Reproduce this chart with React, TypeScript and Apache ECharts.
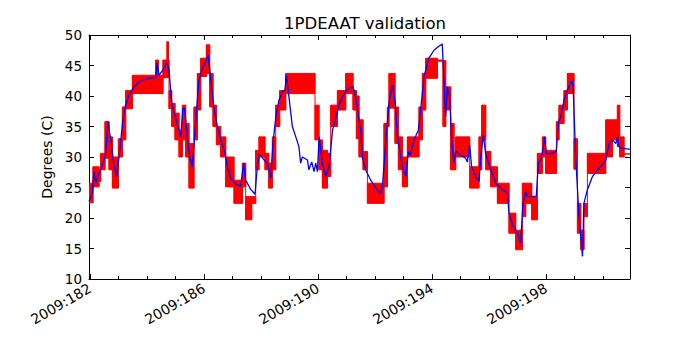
import React, { useEffect, useRef } from "react";
import * as echarts from "echarts";

// ---- Data (day-of-year 2009, temperature in deg C) ----
const xMin = 181.965;
const xMax = 200.947;
const majorDays = [182, 186, 190, 194, 198];
const minorDays = [183, 184, 185, 187, 188, 189, 191, 192, 193, 195, 196, 197, 199, 200];
const yTicks = [10, 15, 20, 25, 30, 35, 40, 45, 50];

// Red telemetry (quantized, noisy): piecewise blocks [edge_i, edge_i+1] with low/high envelope
const redEdges = [
  181.965, 182.105, 182.316, 182.375, 182.526, 182.667, 182.786, 182.996, 183.137, 183.253,
  183.488, 184.305, 184.4, 184.561, 184.702, 184.751, 184.772, 184.867, 184.982, 185.123,
  185.242, 185.358, 185.474, 185.649, 185.768, 185.884, 186.084, 186.2, 186.316, 186.435,
  186.586, 186.761, 187.053, 187.347, 187.463, 187.674, 187.814, 187.93, 188.14, 188.27,
  188.4, 188.516, 188.656, 188.867, 189.895, 190.035, 190.154, 190.33, 190.446, 190.681,
  190.972, 191.228, 191.347, 191.439, 191.579, 191.733, 192.316, 192.435, 192.491, 192.702,
  192.821, 192.961, 193.137, 193.544, 193.663, 193.779, 194.189, 194.386, 194.481, 194.656,
  194.772, 194.832, 195.323, 195.649, 195.744, 195.884, 196.06, 196.295, 196.702, 196.937,
  197.172, 197.288, 197.498, 197.698, 197.874, 197.989, 198.365, 198.456, 198.632, 198.751,
  198.982, 199.102, 199.218, 199.333, 199.453, 200.095, 200.33, 200.505, 200.586, 200.737,
  200.947,
];
const redLow = [
  22.5, 25.1, 26.0, 27.9, 29.8, 27.9, 24.9, 30.0, 32.8, 37.9,
  40.4, 40.4, 40.4, 43.0, 43.0, 43.0, 37.9, 35.0, 32.8, 30.0,
  32.8, 30.0, 24.9, 32.8, 37.7, 43.2, 43.7, 38.2, 35.0, 32.0,
  30.0, 25.1, 22.4, 25.1, 19.7, 22.4, 27.9, 30.0, 27.9, 24.9,
  27.9, 35.0, 37.7, 40.4, 32.8, 27.9, 24.9, 26.8, 35.0, 37.7,
  40.4, 37.7, 33.0, 30.0, 27.9, 22.4, 25.1, 35.0, 38.0, 32.2,
  27.9, 25.1, 30.0, 32.8, 37.7, 42.9, 45.7, 35.0, 37.7, 27.9,
  27.9, 30.0, 24.9, 27.9, 32.8, 27.9, 25.1, 22.4, 17.5, 14.8,
  20.2, 22.4, 19.7, 27.3, 30.0, 27.3, 32.8, 35.5, 37.7, 40.4,
  28.0, 17.5, 14.8, 20.2, 27.3, 30.0, 32.8, 31.7, 30.0, 30.5,
];
const redHigh = [
  25.7, 28.4, 28.0, 30.6, 35.8, 33.3, 30.0, 33.0, 38.2, 40.9,
  43.4, 45.9, 43.4, 45.9, 48.9, 45.9, 40.9, 38.8, 37.2, 34.4,
  38.5, 35.5, 32.2, 38.2, 43.7, 46.2, 48.4, 43.7, 38.5, 35.0,
  33.3, 30.0, 26.2, 29.0, 23.5, 23.5, 31.1, 33.3, 30.6, 29.0,
  33.3, 38.5, 40.9, 43.7, 38.5, 32.8, 31.1, 30.6, 38.5, 40.9,
  43.7, 40.9, 40.0, 36.1, 30.9, 25.7, 35.5, 38.2, 43.7, 38.2,
  33.3, 30.0, 33.3, 38.2, 43.7, 46.2, 45.9, 45.8, 41.5, 35.5,
  30.6, 33.3, 28.4, 33.3, 38.5, 30.9, 28.4, 25.7, 20.8, 18.0,
  25.7, 25.7, 23.5, 30.6, 33.3, 31.1, 35.8, 38.5, 40.9, 43.7,
  33.0, 22.4, 18.0, 22.4, 30.6, 36.1, 36.1, 38.5, 33.3, 30.5,
];

// Blue model prediction
const blueDays = [
  181.965, 182.08, 182.14, 182.2, 182.32, 182.49, 182.55, 182.63, 182.73, 182.84,
  182.93, 183.02, 183.14, 183.23, 183.37, 183.54, 183.78, 184.07, 184.31, 184.35,
  184.42, 184.56, 184.69, 184.77, 184.87, 185.01, 185.12, 185.18, 185.26, 185.32,
  185.42, 185.5, 185.59, 185.71, 185.82, 185.94, 186.06, 186.15, 186.24, 186.35,
  186.47, 186.59, 186.74, 186.82, 186.94, 187.11, 187.29, 187.35, 187.4, 187.46,
  187.64, 187.79, 187.87, 187.95, 188.11, 188.22, 188.28, 188.34, 188.42, 188.52,
  188.63, 188.75, 188.84, 188.89, 188.98, 189.1, 189.22, 189.33, 189.39, 189.45,
  189.63, 189.68, 189.78, 189.86, 189.92, 189.98, 190.04, 190.1, 190.15, 190.27,
  190.39, 190.51, 190.62, 190.74, 190.91, 191.09, 191.23, 191.32, 191.44, 191.5,
  191.56, 191.67, 191.85, 192.03, 192.2, 192.26, 192.38, 192.49, 192.61, 192.7,
  192.79, 192.96, 193.08, 193.17, 193.23, 193.37, 193.52, 193.6, 193.72, 193.89,
  194.07, 194.25, 194.36, 194.42, 194.48, 194.54, 194.62, 194.69, 194.77, 194.83,
  195.01, 195.18, 195.24, 195.32, 195.39, 195.53, 195.65, 195.71, 195.8, 195.88,
  196.06, 196.24, 196.41, 196.65, 196.7, 196.82, 197.0, 197.11, 197.19, 197.29,
  197.35, 197.66, 197.73, 197.81, 197.87, 197.95, 198.01, 198.16, 198.36, 198.44,
  198.52, 198.63, 198.75, 198.9, 198.95, 199.04, 199.16, 199.28, 199.33, 199.45,
  199.63, 199.8, 199.98, 200.1, 200.21, 200.33, 200.45, 200.51, 200.56, 200.66,
  200.91, 200.947,
];
const blueTemps = [
  22.7, 24.0, 27.6, 25.7, 27.3, 29.5, 30.6, 35.8, 32.8, 28.7,
  26.8, 30.0, 35.5, 38.2, 40.2, 41.5, 42.5, 42.9, 43.0, 45.4,
  43.4, 44.3, 45.5, 44.3, 38.8, 36.3, 34.4, 33.3, 38.0, 38.0,
  32.8, 30.0, 28.4, 35.8, 42.6, 44.5, 45.6, 46.7, 42.6, 38.0,
  35.0, 32.8, 30.6, 28.4, 26.5, 25.6, 25.2, 27.6, 29.0, 26.2,
  24.7, 23.9, 28.4, 30.5, 29.5, 29.0, 27.9, 26.5, 32.2, 36.6,
  39.3, 40.7, 41.0, 43.4, 39.9, 35.0, 33.3, 31.7, 29.0, 30.0,
  29.5, 27.9, 29.2, 27.6, 29.0, 27.6, 33.3, 31.1, 29.0, 26.8,
  28.4, 34.4, 36.3, 38.5, 40.4, 41.3, 41.5, 39.9, 36.1, 34.4,
  30.0, 27.9, 26.2, 24.9, 24.0, 25.1, 32.8, 38.8, 41.8, 39.3,
  33.3, 28.4, 26.8, 30.9, 30.3, 32.8, 34.4, 37.7, 43.2, 46.2,
  47.5, 48.2, 48.5, 42.6, 36.6, 41.5, 39.9, 32.8, 29.0, 30.9,
  30.3, 29.8, 29.2, 32.0, 28.4, 26.8, 26.0, 30.0, 33.6, 30.6,
  27.9, 25.7, 24.9, 24.0, 20.8, 18.9, 17.5, 15.9, 22.4, 24.3,
  23.5, 23.6, 29.0, 29.5, 30.6, 33.3, 30.6, 30.5, 30.9, 35.8,
  36.6, 39.3, 41.0, 42.6, 41.8, 30.0, 20.2, 13.7, 22.4, 24.6,
  26.8, 27.9, 28.7, 29.5, 32.2, 32.8, 32.2, 33.3, 31.7, 31.4,
  31.3, 31.3,
];

const FONT = "DejaVu Sans";
const RED = "#ff0000";
const BLUE = "#0000ff";

export default function App() {
  const ref = useRef<HTMLDivElement>(null);
  useEffect(() => {
    if (!ref.current) return;
    const chart = echarts.init(ref.current, undefined, { renderer: "svg" });

    // [start, end, low, high, prevLow, prevHigh]
    const redBlocks = redLow.map((lo, i) => [
      redEdges[i],
      redEdges[i + 1],
      lo,
      redHigh[i],
      i > 0 ? redLow[i - 1] : lo,
      i > 0 ? redHigh[i - 1] : redHigh[i],
    ]);
    const blueData = blueDays.map((d, i) => [d, blueTemps[i]]);

    const black = "#000000";
    const baseX = {
      type: "value",
      min: xMin,
      max: xMax,
      splitLine: { show: false },
    };
    const baseY = {
      type: "value",
      min: 10,
      max: 50,
      interval: 5,
      splitLine: { show: false },
    };

    const renderRed = (params: any, api: any) => {
      const a = api.value(0);
      const b = api.value(1);
      const lo = api.value(2);
      const hi = api.value(3);
      const plo = api.value(4);
      const phi = api.value(5);
      const tl = api.coord([a, hi]);
      const br = api.coord([b, lo]);
      const vTop = api.coord([a, Math.max(hi, phi)]);
      const vBot = api.coord([a, Math.min(lo, plo)]);
      const cs = params.coordSys;
      return {
        type: "group",
        clipPath: { type: "rect", shape: { x: cs.x, y: cs.y, width: cs.width, height: cs.height } },
        children: [
          {
            type: "rect",
            shape: { x: tl[0], y: tl[1], width: br[0] - tl[0], height: br[1] - tl[1] },
            style: { fill: RED, stroke: RED, lineWidth: 1 },
          },
          {
            type: "line",
            shape: { x1: vTop[0], y1: vTop[1], x2: vBot[0], y2: vBot[1] },
            style: { stroke: RED, lineWidth: 1 },
          },
        ],
      };
    };

    chart.setOption({
      animation: false,
      backgroundColor: "#ffffff",
      title: {
        text: "1PDEAAT validation",
        left: 360,
        top: 10,
        textAlign: "center",
        textStyle: { fontFamily: FONT, fontSize: 16.5, fontWeight: "normal", color: black },
      },
      grid: { left: 89, right: 70, top: 35, bottom: 71, containLabel: false },
      xAxis: [
        {
          ...baseX,
          position: "bottom",
          axisLine: { show: true, onZero: false, lineStyle: { color: black, width: 1 } },
          axisTick: { show: true, inside: true, length: 5, customValues: majorDays, lineStyle: { color: black } },
          axisLabel: {
            show: true,
            customValues: majorDays,
            formatter: (v: number) => "2009:" + Math.round(v),
            rotate: 30,
            margin: 8,
            fontFamily: FONT,
            fontSize: 14,
            color: black,
          },
        },
        {
          ...baseX,
          position: "top",
          axisLine: { show: true, onZero: false, lineStyle: { color: black, width: 1 } },
          axisTick: { show: true, inside: true, length: 5, customValues: majorDays, lineStyle: { color: black } },
          axisLabel: { show: false },
        },
        {
          ...baseX,
          position: "bottom",
          axisLine: { show: false, onZero: false },
          axisTick: { show: true, inside: true, length: 3, customValues: minorDays, lineStyle: { color: black } },
          axisLabel: { show: false },
        },
        {
          ...baseX,
          position: "top",
          axisLine: { show: false, onZero: false },
          axisTick: { show: true, inside: true, length: 3, customValues: minorDays, lineStyle: { color: black } },
          axisLabel: { show: false },
        },
      ],
      yAxis: [
        {
          ...baseY,
          position: "left",
          name: "Degrees (C)",
          nameLocation: "middle",
          nameGap: 33,
          nameTextStyle: { fontFamily: FONT, fontSize: 14, color: black },
          axisLine: { show: true, onZero: false, lineStyle: { color: black, width: 1 } },
          axisTick: { show: true, inside: true, length: 5, lineStyle: { color: black } },
          axisLabel: {
            show: true,
            margin: 7,
            fontFamily: FONT,
            fontSize: 13.5,
            color: black,
            customValues: yTicks,
          },
        },
        {
          ...baseY,
          position: "right",
          axisLine: { show: true, onZero: false, lineStyle: { color: black, width: 1 } },
          axisTick: { show: true, inside: true, length: 5, lineStyle: { color: black } },
          axisLabel: { show: false },
        },
      ],
      series: [
        {
          name: "telemetry",
          type: "custom",
          xAxisIndex: 0,
          yAxisIndex: 0,
          renderItem: renderRed,
          encode: { x: [0, 1], y: [2, 3] },
          data: redBlocks,
          z: 2,
        },
        {
          name: "model",
          type: "line",
          xAxisIndex: 0,
          yAxisIndex: 0,
          data: blueData,
          showSymbol: false,
          symbol: "none",
          lineStyle: { color: BLUE, width: 1.3 },
          z: 3,
        },
      ],
    });
    return () => chart.dispose();
  }, []);

  return (
    <div
      ref={ref}
      style={{ position: "fixed", left: 0, top: 0, width: 700, height: 350, background: "#fff" }}
    />
  );
}
